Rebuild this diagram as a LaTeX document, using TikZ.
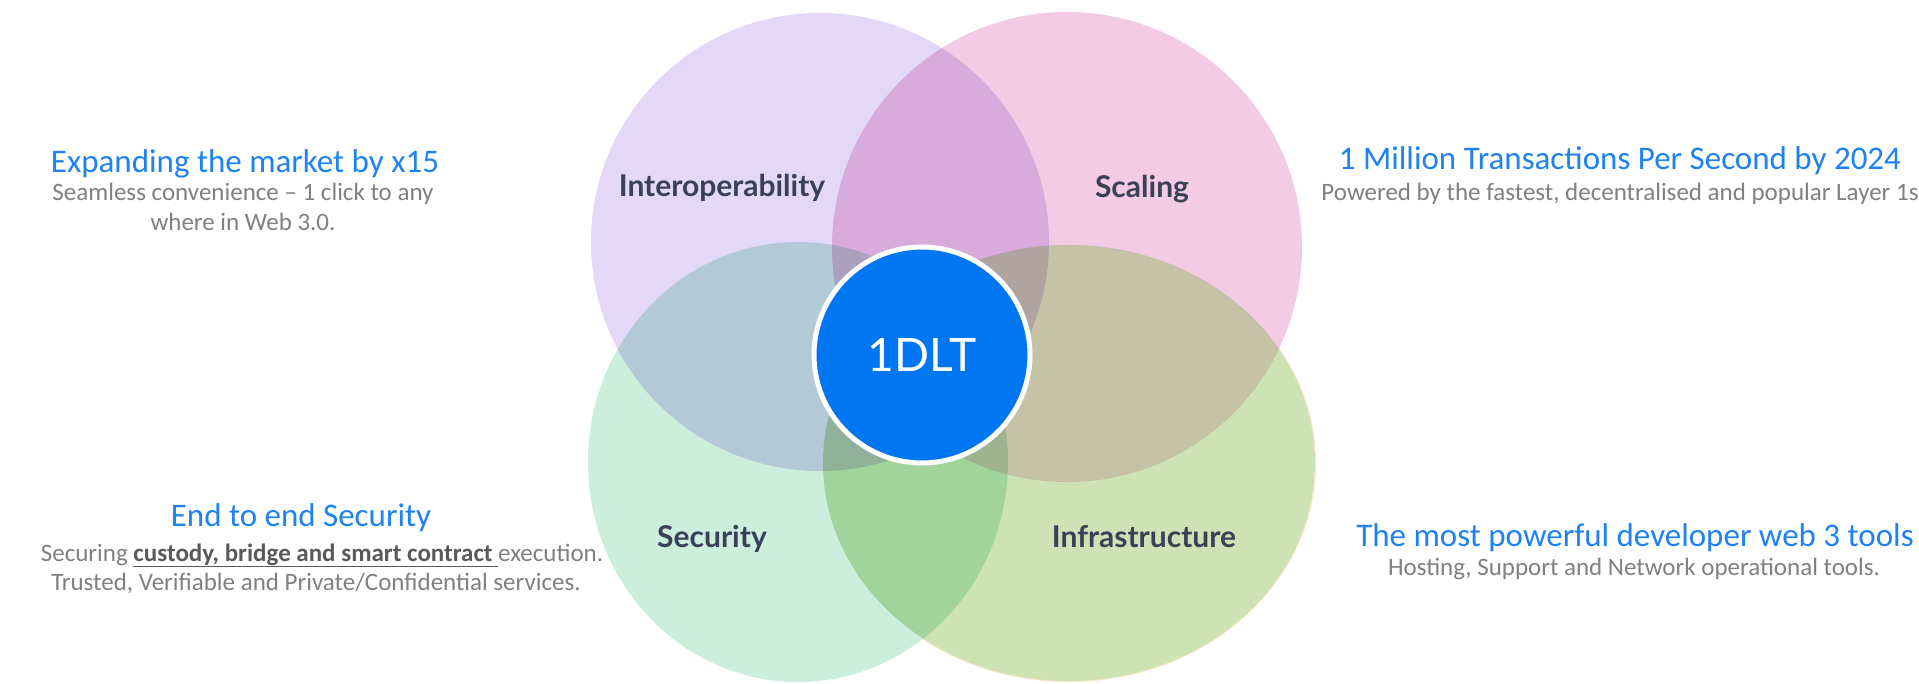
\documentclass[tikz,border=0pt]{standalone}
\usepackage{fontspec}
\setmainfont{Carlito}
\newfontfamily\latofont{Lato}
\definecolor{cpurple}{HTML}{E3D8F7}
\definecolor{cpink}{HTML}{F4CBE4}
\definecolor{csecur}{HTML}{CBEEDD}
\definecolor{cgreen}{HTML}{CDE3B6}
\definecolor{clens}{HTML}{CFF4BA}
\definecolor{crim}{HTML}{FBE6C6}
\definecolor{cblue}{HTML}{0077F2}
\definecolor{ctitle}{HTML}{1E82F2}
\definecolor{csub}{HTML}{808080}
\definecolor{cbold}{HTML}{595959}
\definecolor{cvenn}{HTML}{3A4157}
\tikzset{
  titletext/.style={font=\fontsize{33}{36}\selectfont, text=ctitle, anchor=base, inner sep=0pt},
  subtext/.style={font=\fontsize{25}{30}\selectfont, text=csub, anchor=base, inner sep=0pt},
  venntext/.style={font=\latofont\bfseries\fontsize{30}{36}\selectfont, text=cvenn, anchor=base, inner sep=0pt},
  corenode/.style={circle, fill=cblue, draw=white, line width=5pt, minimum size=216pt, inner sep=0pt,
    text=white, font=\latofont\fontsize{46}{50}\selectfont}
}
\def\purplepath{(820,242) ellipse [x radius=229pt, y radius=229pt]}
\def\pinkpath{(1067,247) ellipse [x radius=235pt, y radius=235pt]}
\def\securpath{(798,462) ellipse [x radius=210pt, y radius=220pt]}
\def\greenpath{(1069,463) ellipse [x radius=246pt, y radius=218pt]}
\begin{document}
\begin{tikzpicture}[x=1pt,y=-1pt]
\useasboundingbox (0,0) rectangle (1919,684);
\fill[white] (0,0) rectangle (1919,684);
\clip (0,0) rectangle (1919,684);
\draw[crim, line width=2pt] (1069,463) ellipse [x radius=246pt, y radius=218pt];
\begin{scope}[blend group=multiply]
  \fill[cpurple] (820,242) ellipse [x radius=229pt, y radius=229pt];
  \fill[csecur] (798,462) ellipse [x radius=210pt, y radius=220pt];
  \fill[cpink] (1067,247) ellipse [x radius=235pt, y radius=235pt];
  \begin{scope}
    \clip (1069,463) ellipse [x radius=246pt, y radius=218pt];
    \fill[cgreen, even odd rule] (1069,463) ellipse [x radius=246pt, y radius=218pt]
      (1067,247) ellipse [x radius=235pt, y radius=235pt];
  \end{scope}
  \begin{scope}
    \clip (1067,247) ellipse [x radius=235pt, y radius=235pt];
    \fill[clens] (1069,463) ellipse [x radius=246pt, y radius=218pt];
  \end{scope}
\end{scope}
\node[corenode] (core) at (922,355) {1DLT};
\node[venntext] (interop) at (722,197) {Interoperability};
\node[venntext] (scaling) at (1142,198) {Scaling};
\node[venntext] (security) at (712,547) {Security};
\node[venntext] (infra) at (1144,547) {Infrastructure};
\node[titletext] (t1) at (245,173) {Expanding the market by x15};
\node[subtext] (s1a) at (243,201) {Seamless convenience – 1 click to any};
\node[subtext] (s1b) at (243,231) {where in Web 3.0.};
\node[titletext] (t2) at (1620,170) {1 Million Transactions Per Second by 2024};
\node[subtext] (s2) at (1620,201) {Powered by the fastest, decentralised and popular Layer 1s};
\node[titletext] (t3) at (301,526) {End to end Security};
\node[subtext] (s3a) at (322,561) {Securing \textcolor{cbold}{\underline{\textbf{custody, bridge and smart contract}\ }}execution.};
\node[subtext] (s3b) at (316,590) {Trusted, Verifiable and Private/Confidential services.};
\node[titletext] (t4) at (1635,546) {The most powerful developer web 3 tools};
\node[subtext] (s4) at (1634,575) {Hosting, Support and Network operational tools.};
\end{tikzpicture}
\end{document}
